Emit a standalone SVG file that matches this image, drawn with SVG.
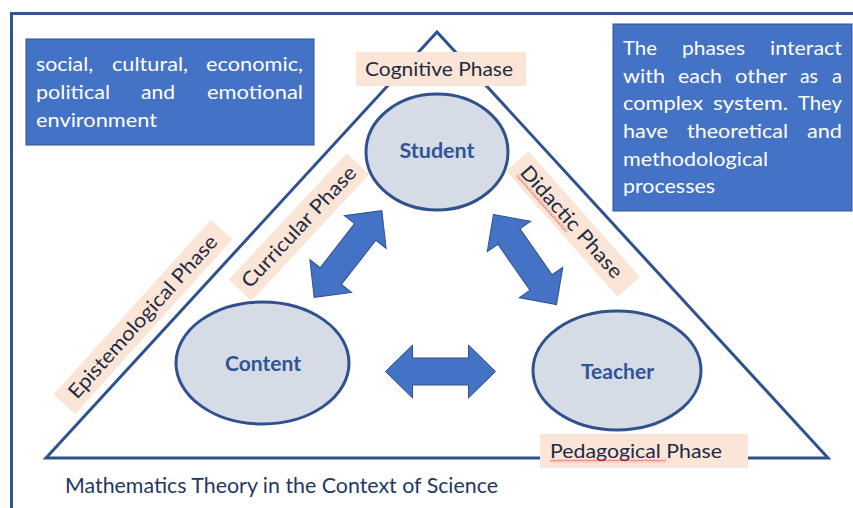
<svg xmlns="http://www.w3.org/2000/svg" width="853" height="508" viewBox="0 0 853 508">
  <style>
    text { font-family: Lato, "Liberation Sans", "DejaVu Sans", sans-serif; }
    .frame { fill: none; stroke: #2F5597; stroke-width: 3; }
    .tri { fill: #FFFFFF; stroke: #2F528F; stroke-width: 3; }
    .box { fill: #4472C4; stroke: #2F528F; stroke-width: 1; }
    .boxtxt { fill: #FFFFFF; font-size: 20px; }
    .node { fill: #D6DCE5; stroke: #2F528F; stroke-width: 3; }
    .nodetxt { fill: #2F5597; font-size: 20px; font-weight: bold; text-anchor: middle; }
    .tag { fill: #FBE5D6; }
    .tagtxt { fill: #1F2A44; font-size: 20px; }
    .arrow { fill: #4472C4; stroke: #2F528F; stroke-width: 1; }
    .caption { fill: #1F3864; font-size: 21.5px; }
    .spell { fill: url(#wavy); }
  </style>
  <defs>
    <!-- fat double-headed arrow, centred on the origin, pointing along x -->
    <path id="dbl" d="M-55,0 L-28,-26.5 L-28,-13.5 L28,-13.5 L28,-26.5 L55,0 L28,26.5 L28,13.5 L-28,13.5 L-28,26.5 Z"/>
    <!-- red wavy spell-check underline -->
    <pattern id="wavy" patternUnits="userSpaceOnUse" width="4" height="3">
      <path d="M0,2.5 L2,0.5 L4,2.5" fill="none" stroke="#E02020" stroke-width="0.9"/>
    </pattern>
  </defs>

  <!-- outer frame -->
  <rect class="frame" x="11.5" y="13.5" width="900" height="600"/>

  <!-- main triangle -->
  <polygon class="tri" points="46,458 437,32 828,458"/>

  <!-- environment box -->
  <g id="environment">
    <rect class="box" x="26" y="39" width="288" height="106"/>
    <text class="boxtxt" x="36" y="71" textLength="57" lengthAdjust="spacingAndGlyphs">social,</text>
    <text class="boxtxt" x="112" y="71" textLength="76" lengthAdjust="spacingAndGlyphs">cultural,</text>
    <text class="boxtxt" x="206" y="71" textLength="97" lengthAdjust="spacingAndGlyphs">economic,</text>
    <text class="boxtxt" x="36" y="99" textLength="74" lengthAdjust="spacingAndGlyphs">political</text>
    <text class="boxtxt" x="141" y="99" textLength="34" lengthAdjust="spacingAndGlyphs">and</text>
    <text class="boxtxt" x="207" y="99" textLength="96" lengthAdjust="spacingAndGlyphs">emotional</text>
    <text class="boxtxt" x="36" y="127" textLength="121" lengthAdjust="spacingAndGlyphs">environment</text>
  </g>

  <!-- explanatory note -->
  <g id="note">
    <rect class="box" x="613" y="24" width="239" height="187"/>
    <text class="boxtxt" x="623" y="55" textLength="34" lengthAdjust="spacingAndGlyphs">The</text>
    <text class="boxtxt" x="682" y="55" textLength="63" lengthAdjust="spacingAndGlyphs">phases</text>
    <text class="boxtxt" x="770" y="55" textLength="72" lengthAdjust="spacingAndGlyphs">interact</text>
    <text class="boxtxt" x="623" y="83" textLength="42" lengthAdjust="spacingAndGlyphs">with</text>
    <text class="boxtxt" x="678" y="83" textLength="44" lengthAdjust="spacingAndGlyphs">each</text>
    <text class="boxtxt" x="735" y="83" textLength="52" lengthAdjust="spacingAndGlyphs">other</text>
    <text class="boxtxt" x="800" y="83" textLength="18" lengthAdjust="spacingAndGlyphs">as</text>
    <text class="boxtxt" x="832" y="83" textLength="10" lengthAdjust="spacingAndGlyphs">a</text>
    <text class="boxtxt" x="623" y="110" textLength="80" lengthAdjust="spacingAndGlyphs">complex</text>
    <text class="boxtxt" x="713" y="110" textLength="75" lengthAdjust="spacingAndGlyphs">system.</text>
    <text class="boxtxt" x="798" y="110" textLength="44" lengthAdjust="spacingAndGlyphs">They</text>
    <text class="boxtxt" x="623" y="138" textLength="45" lengthAdjust="spacingAndGlyphs">have</text>
    <text class="boxtxt" x="687" y="138" textLength="101" lengthAdjust="spacingAndGlyphs">theoretical</text>
    <text class="boxtxt" x="807" y="138" textLength="35" lengthAdjust="spacingAndGlyphs">and</text>
    <text class="boxtxt" x="623" y="166" textLength="145" lengthAdjust="spacingAndGlyphs">methodological</text>
    <text class="boxtxt" x="623" y="193" textLength="92" lengthAdjust="spacingAndGlyphs">processes</text>
  </g>

  <!-- phase labels -->
  <g id="cognitive-phase">
    <rect class="tag" x="356" y="52" width="170" height="34"/>
    <text class="tagtxt" x="365" y="76" textLength="148" lengthAdjust="spacingAndGlyphs">Cognitive Phase</text>
  </g>
  <g id="epistemological-phase" transform="translate(143,317) rotate(-48)">
    <rect class="tag" x="-117.5" y="-14.5" width="235" height="29"/>
    <text class="tagtxt" x="0" y="6.5" text-anchor="middle" textLength="212" lengthAdjust="spacingAndGlyphs">Epistemological Phase</text>
  </g>
  <g id="curricular-phase" transform="translate(299,227) rotate(-47)">
    <rect class="tag" x="-86.5" y="-15.5" width="173" height="31"/>
    <text class="tagtxt" x="0" y="6.5" text-anchor="middle" textLength="158" lengthAdjust="spacingAndGlyphs">Curricular Phase</text>
  </g>
  <g id="didactic-phase" transform="translate(573,224) rotate(48.5)">
    <rect class="tag" x="-84" y="-15" width="168" height="30"/>
    <text class="tagtxt" x="-74" y="6.5" textLength="143" lengthAdjust="spacingAndGlyphs">Didactic Phase</text>
    <rect class="spell" x="-74" y="8" width="76" height="3"/>
  </g>
  <g id="pedagogical-phase">
    <rect class="tag" x="540" y="434" width="208" height="34"/>
    <text class="tagtxt" x="550" y="458" textLength="172" lengthAdjust="spacingAndGlyphs">Pedagogical Phase</text>
    <rect class="spell" x="550" y="459.5" width="116" height="3"/>
  </g>

  <!-- nodes -->
  <g id="student">
    <ellipse class="node" cx="437" cy="152" rx="71" ry="58"/>
    <text class="nodetxt" x="437" y="158" textLength="75" lengthAdjust="spacingAndGlyphs">Student</text>
  </g>
  <g id="content">
    <ellipse class="node" cx="262.5" cy="363" rx="86.5" ry="61"/>
    <text class="nodetxt" x="263" y="371" textLength="76" lengthAdjust="spacingAndGlyphs">Content</text>
  </g>
  <g id="teacher">
    <ellipse class="node" cx="617" cy="370.5" rx="84" ry="59.5"/>
    <text class="nodetxt" x="617.5" y="379" textLength="73" lengthAdjust="spacingAndGlyphs">Teacher</text>
  </g>

  <!-- connectors -->
  <g id="connectors">
    <use href="#dbl" class="arrow" transform="translate(348,254) rotate(-52)"/>
    <use href="#dbl" class="arrow" transform="translate(525,259.5) rotate(55)"/>
    <use href="#dbl" class="arrow" transform="translate(440.5,371.5)"/>
  </g>

  <!-- caption -->
  <text class="caption" x="65" y="493" textLength="433" lengthAdjust="spacingAndGlyphs">Mathematics Theory in the Context of Science</text>
</svg>
